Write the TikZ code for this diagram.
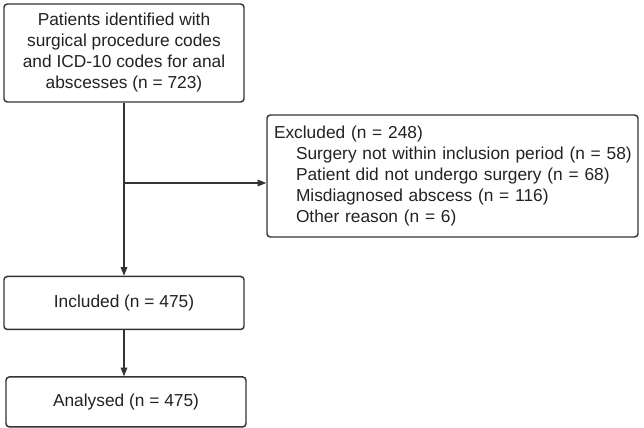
\documentclass[tikz,border=0pt]{standalone}
\usepackage{fontspec}
\setmainfont{Liberation Sans}
\usepackage{xcolor}
\usepackage{tikz}
\usetikzlibrary{positioning, arrows.meta}
\definecolor{boxline}{HTML}{333333}
\definecolor{bodytext}{HTML}{222222}

\begin{document}
\begin{tikzpicture}[
  x=0.75pt, y=-0.75pt,
  every node/.style={font=\fontsize{13}{15.75}\selectfont, text=bodytext},
  stage/.style={
    draw=boxline,
    line width=1.1pt,
    rounded corners=2.5pt,
    minimum width=180pt,
    fill=white,
    align=center,
    inner sep=3pt,
  },
  exclbox/.style={
    draw=boxline,
    line width=1.1pt,
    rounded corners=2.5pt,
    minimum width=278.25pt,
    minimum height=91.5pt,
    text width=267.75pt,
    inner xsep=5.25pt,
    align=left,
  },
  link/.style={
    -{Triangle[length=6.5pt, width=5pt]},
    line width=0.9pt,
    draw=boxline,
  },
]
  \useasboundingbox (0,0) rectangle (644,428);

  \node[stage, minimum height=73.5pt] (identified) at (124,53)
    {Patients identified with\\surgical procedure codes\\and ICD-10 codes for anal\\abscesses (n = 723)};
  \node[stage, minimum height=39.75pt, below=129.75pt of identified] (included) {Included (n = 475)};
  \node[stage, minimum height=37.5pt, below=34.5pt of included, xshift=1.5pt] (analysed) {Analysed (n = 475)};
  \node[exclbox] (excluded) at (452.5,176)
    {Excluded (n = 248)\\
     \hspace*{16.5pt}\mbox{Surgery not within inclusion period (n = 58)}\\
     \hspace*{16.5pt}\mbox{Patient did not undergo surgery (n = 68)}\\
     \hspace*{16.5pt}\mbox{Misdiagnosed abscess (n = 116)}\\
     \hspace*{16.5pt}\mbox{Other reason (n = 6)}};

  \coordinate (branch) at (124,183);

  \draw[link] (identified) -- (included);
  \draw[link] (branch) -- (branch -| excluded.west);
  \draw[link] (included) -- (included |- analysed.north);
\end{tikzpicture}
\end{document}
